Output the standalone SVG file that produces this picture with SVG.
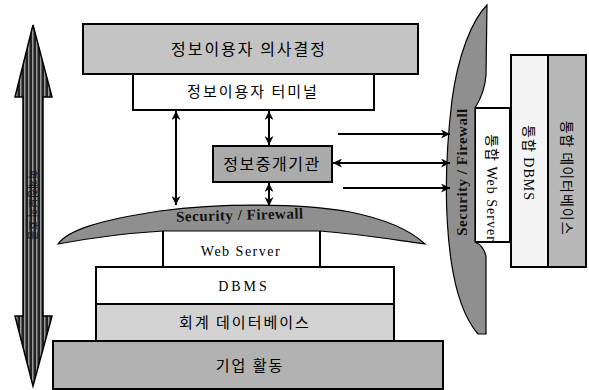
<svg xmlns="http://www.w3.org/2000/svg" width="589" height="390" viewBox="0 0 589 390">
<defs>
<style>
.box{stroke:#000;stroke-width:2}
.kr{font-family:"Noto Sans CJK KR","Noto Sans",sans-serif;font-size:15px;fill:#000;text-anchor:middle;letter-spacing:2px}
.en{font-family:"Liberation Serif",serif;font-size:14px;fill:#000;text-anchor:middle;letter-spacing:1.5px}
.fw{font-family:"Liberation Serif",serif;font-size:15px;font-weight:bold;fill:#111;text-anchor:middle;letter-spacing:0.5px}
.con{stroke:#000;stroke-width:2;fill:none}
</style>
<pattern id="stripes" width="4" height="4" patternUnits="userSpaceOnUse">
<rect width="4" height="4" fill="#222"/>
<rect x="0" width="1.5" height="4" fill="#9a9a9a"/>
</pattern>
<marker id="ah" viewBox="0 0 10 10" refX="10" refY="5" markerWidth="10" markerHeight="9" markerUnits="userSpaceOnUse" orient="auto-start-reverse">
<path d="M0,0 L10,5 L0,10 L3,5 Z" fill="#000"/>
</marker>
</defs>
<rect width="589" height="390" fill="#fff"/>

<g id="flow-arrow">
<polygon points="33,25 52,97 43,97 43,316 52,316 33,386 15,316 23,316 23,97 15,97" fill="url(#stripes)" stroke="#000" stroke-width="1.5"/>
<text class="kr" transform="translate(33,205) rotate(90)" y="4" style="font-size:10px;letter-spacing:0.5px;fill:#111">회계정보의 흐름</text>
</g>

<g id="decision">
<rect class="box" x="83" y="24" width="335" height="50" fill="#c4c4c4" stroke-width="3"/>
<text class="kr" x="249" y="55" style="font-size:16px">정보이용자 의사결정</text>
</g>

<g id="terminal">
<rect class="box" x="133" y="74" width="241" height="36" fill="#fff"/>
<text class="kr" x="253" y="97">정보이용자 터미널</text>
</g>

<g id="broker">
<rect class="box" x="213" y="146" width="119" height="36" fill="#ababab"/>
<text class="kr" x="272" y="170" style="font-size:16px;letter-spacing:1.5px">정보중개기관</text>
</g>

<g id="business">
<rect class="box" x="53" y="341" width="390" height="48" fill="#b2b2b2" stroke-width="3"/>
<text class="kr" x="250" y="371">기업 활동</text>
</g>

<g id="accounting-db">
<rect class="box" x="96" y="304" width="298" height="37" fill="#d2d2d2"/>
<text class="kr" x="245" y="328">회계 데이터베이스</text>
</g>

<g id="dbms">
<rect class="box" x="96" y="267" width="298" height="37" fill="#fff"/>
<text class="en" x="244" y="291" style="letter-spacing:3px">DBMS</text>
</g>

<g id="web-server">
<rect class="box" x="163" y="222" width="157" height="45" fill="#fff"/>
<text class="en" x="241" y="256">Web Server</text>
</g>

<g id="firewall-bottom">
<path d="M58,244 C68,230 100,220 160,211 C220,203 300,203 350,212 C385,219 410,230 425,244 C395,240 360,234 320,231 L163,231 C130,233 90,238 58,244 Z" fill="#8f8f8f" stroke="#000" stroke-width="1.2"/>
<text class="fw" x="240" y="220" transform="rotate(-1.5 240 220)">Security / Firewall</text>
</g>

<g id="integrated-db">
<rect class="box" x="548" y="55" width="38" height="212" fill="#b8b8b8"/>
<text class="kr" transform="translate(567,178) rotate(90)" y="5" style="font-size:14px;letter-spacing:1px">통합 데이터베이스</text>
</g>

<g id="integrated-dbms">
<rect class="box" x="511" y="55" width="37" height="212" fill="#f4f4f4"/>
<text class="en" transform="translate(529,163) rotate(90)" y="5" style="letter-spacing:1px"><tspan style="font-family:'Noto Sans CJK KR',sans-serif">통합</tspan> DBMS</text>
</g>

<g id="integrated-web">
<rect class="box" x="475" y="108" width="35" height="134" fill="#fff"/>
<text class="en" transform="translate(492,188) rotate(90)" y="5" style="letter-spacing:1px"><tspan style="font-family:'Noto Sans CJK KR',sans-serif">통합</tspan> Web Server</text>
</g>

<g id="firewall-right">
<path d="M487,5 C472,20 458,55 452,100 C446,150 444,210 451,260 C456,295 466,320 478,334 L486,334 L486,256 C484,248 480,244 475,242 L475,108 C480,100 485,90 486,75 Z" fill="#8f8f8f" stroke="#000" stroke-width="1.2"/>
<text class="fw" transform="translate(462,172) rotate(-90)" y="5">Security / Firewall</text>
</g>

<g id="connectors">
<line class="con" x1="176" y1="111" x2="176" y2="205" marker-start="url(#ah)" marker-end="url(#ah)"/>
<line class="con" x1="269" y1="111" x2="269" y2="145" marker-start="url(#ah)" marker-end="url(#ah)"/>
<line class="con" x1="269" y1="183" x2="269" y2="206" marker-start="url(#ah)" marker-end="url(#ah)"/>
<line class="con" x1="338" y1="134" x2="450" y2="134" marker-end="url(#ah)"/>
<line class="con" x1="333" y1="163" x2="450" y2="163" marker-start="url(#ah)" marker-end="url(#ah)"/>
<line class="con" x1="343" y1="188" x2="450" y2="188" marker-end="url(#ah)"/>
</g>
</svg>
